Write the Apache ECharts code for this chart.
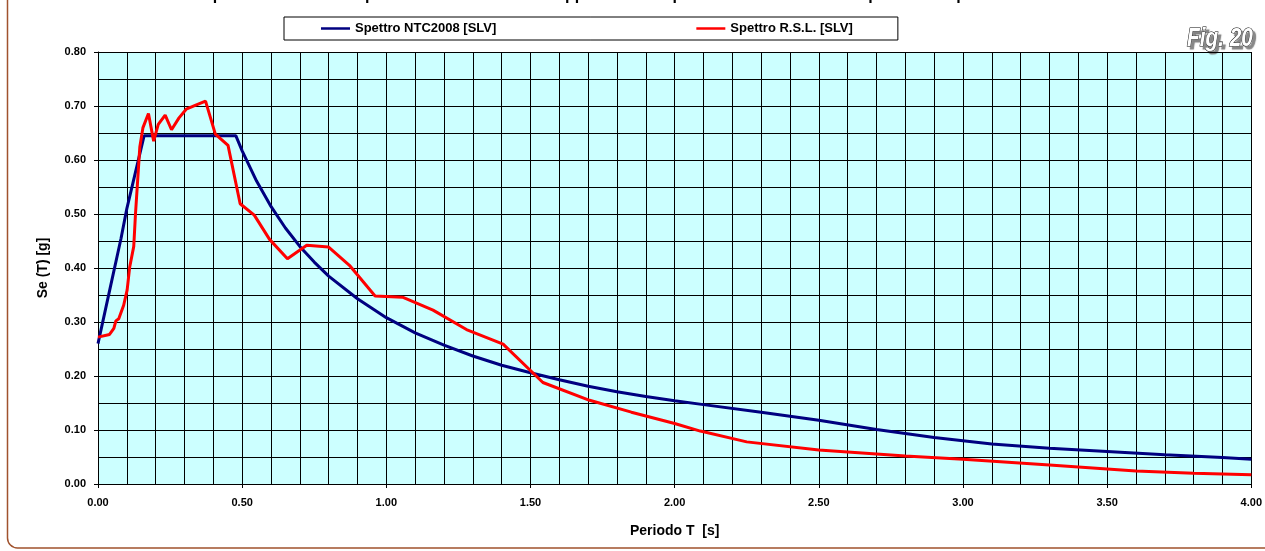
<!DOCTYPE html>
<html>
<head>
<meta charset="utf-8">
<script src="https://cdn.jsdelivr.net/npm/echarts@6/dist/echarts.min.js"></script>
<style>
html,body{margin:0;padding:0;background:#fff;}
#c{width:1265px;height:551px;}
</style>
</head>
<body>
<div id="c"></div>
<script>
// ---- data ----
const titleText = "Spettro elastico di risposta in accelerazione - rapporto tra lo spettro caratteristico e lo spettro di risposta sismica locale";
const seriesNames = ["Spettro NTC2008 [SLV]", "Spettro R.S.L. [SLV]"];
const xTickLabels = ["0.00","0.50","1.00","1.50","2.00","2.50","3.00","3.50","4.00"];

const T_ntc  = [0.00, 0.043, 0.08, 0.10, 0.12, 0.16, 0.478, 0.50, 0.55, 0.60, 0.65, 0.70, 0.75, 0.80, 0.90, 1.00, 1.10, 1.20, 1.30, 1.40, 1.50, 1.60, 1.70, 1.80, 1.90, 2.00, 2.10, 2.30, 2.50, 2.70, 2.90, 3.10, 3.30, 3.50, 3.70, 3.90, 4.00];
const Se_ntc = [0.260, 0.365, 0.455, 0.510, 0.555, 0.645, 0.645, 0.617, 0.561, 0.514, 0.474, 0.440, 0.411, 0.385, 0.343, 0.308, 0.280, 0.257, 0.237, 0.220, 0.206, 0.193, 0.181, 0.171, 0.162, 0.154, 0.147, 0.133, 0.118, 0.101, 0.086, 0.074, 0.066, 0.060, 0.054, 0.049, 0.046];

const T_rsl  = [0.00, 0.04, 0.055, 0.062, 0.072, 0.089, 0.101, 0.110, 0.124, 0.130, 0.145, 0.156, 0.175, 0.193, 0.209, 0.233, 0.255, 0.281, 0.306, 0.337, 0.373, 0.407, 0.451, 0.493, 0.542, 0.595, 0.657, 0.724, 0.799, 0.872, 0.961, 1.056, 1.162, 1.278, 1.405, 1.543, 1.705, 1.85, 2.00, 2.089, 2.25, 2.50, 2.80, 3.00, 3.30, 3.60, 3.80, 4.00];
const Se_rsl = [0.272, 0.277, 0.288, 0.302, 0.306, 0.331, 0.359, 0.402, 0.440, 0.500, 0.624, 0.660, 0.686, 0.635, 0.666, 0.683, 0.656, 0.678, 0.694, 0.701, 0.709, 0.648, 0.627, 0.519, 0.498, 0.453, 0.417, 0.442, 0.439, 0.405, 0.348, 0.346, 0.322, 0.286, 0.259, 0.188, 0.155, 0.133, 0.112, 0.098, 0.078, 0.063, 0.052, 0.046, 0.035, 0.024, 0.020, 0.017];

const zip = (a, b) => a.map((v, i) => [v, b[i]]);

const FONT = "'Liberation Sans', Arial, sans-serif";
const chart = echarts.init(document.getElementById('c'), null, {renderer: 'canvas'});

chart.setOption({
  animation: false,
  backgroundColor: '#fff',
  grid: {
    left: 98, right: 12, top: 52, bottom: 67,
    show: true, backgroundColor: '#ccffff', borderWidth: 0
  },
  legend: {
    left: 284, top: 17,
    padding: [5, 45, 5, 37],
    itemGap: 200,
    icon: 'rect',
    itemWidth: 29, itemHeight: 2.5,
    borderColor: '#000', borderWidth: 1,
    backgroundColor: '#fff',
    textStyle: {fontFamily: FONT, fontWeight: 'bold', fontSize: 13, color: '#000', lineHeight: 13},
    data: seriesNames
  },
  xAxis: {
    type: 'value', min: 0, max: 4, interval: 0.5,
    name: 'Periodo T  [s]', nameLocation: 'middle', nameGap: 40,
    nameTextStyle: {fontFamily: FONT, fontWeight: 'bold', fontSize: 14, color: '#000'},
    axisLine: {show: true, onZero: false, lineStyle: {color: '#000', width: 1}},
    axisTick: {show: true, inside: false, length: 4, lineStyle: {color: '#000'}},
    axisLabel: {
      margin: 13, color: '#000', fontFamily: FONT, fontWeight: 'bold', fontSize: 11,
      formatter: v => xTickLabels[Math.round(v / 0.5)] || v.toFixed(2)
    },
    splitLine: {show: true, lineStyle: {color: '#000', width: 1}},
    minorTick: {show: false, splitNumber: 5},
    minorSplitLine: {show: true, lineStyle: {color: '#000', width: 1}}
  },
  yAxis: {
    type: 'value', min: 0, max: 0.8, interval: 0.1,
    name: 'Se (T) [g]', nameLocation: 'middle', nameGap: 48, nameRotate: 90,
    nameTextStyle: {fontFamily: FONT, fontWeight: 'bold', fontSize: 14, color: '#000'},
    axisLine: {show: true, onZero: false, lineStyle: {color: '#000', width: 1}},
    axisTick: {show: true, inside: false, length: 4, lineStyle: {color: '#000'}},
    axisLabel: {
      margin: 12, color: '#000', fontFamily: FONT, fontWeight: 'bold', fontSize: 11,
      formatter: v => v.toFixed(2)
    },
    splitLine: {show: true, lineStyle: {color: '#000', width: 1}},
    minorTick: {show: false, splitNumber: 2},
    minorSplitLine: {show: true, lineStyle: {color: '#000', width: 1}}
  },
  series: [
    {
      name: seriesNames[0], type: 'line', data: zip(T_ntc, Se_ntc),
      symbol: 'none', smooth: false,
      lineStyle: {color: '#000080', width: 3},
      itemStyle: {color: '#000080'}
    },
    {
      name: seriesNames[1], type: 'line', data: zip(T_rsl, Se_rsl),
      symbol: 'none', smooth: false,
      lineStyle: {color: '#ff0000', width: 3},
      itemStyle: {color: '#ff0000'}
    }
  ],
  graphic: [
    {
      type: 'rect', silent: true, z: -10,
      shape: {x: 7.5, y: -30, width: 1300, height: 578, r: 10},
      style: {fill: 'none', stroke: '#a0522d', lineWidth: 1.5}
    },
    {
      type: 'text', silent: true,
      style: {
        x: 657, y: -4.5, text: titleText,
        textAlign: 'center', textVerticalAlign: 'middle',
        font: "bold 16px " + FONT, fill: '#000'
      }
    },
    {
      type: 'text', silent: true,
      x: 1187, y: 26, scaleX: 0.8,
      style: {
        x: 0, y: 0, text: 'Fig. 20',
        textAlign: 'left', textBaseline: 'alphabetic',
        font: "italic bold 26px " + FONT,
        fill: '#fff', stroke: '#000', lineWidth: 1.2,
        textShadowColor: 'rgba(120,120,120,0.9)', textShadowOffsetX: 3, textShadowOffsetY: 3, textShadowBlur: 1
      }
    }
  ]
});
</script>
</body>
</html>
